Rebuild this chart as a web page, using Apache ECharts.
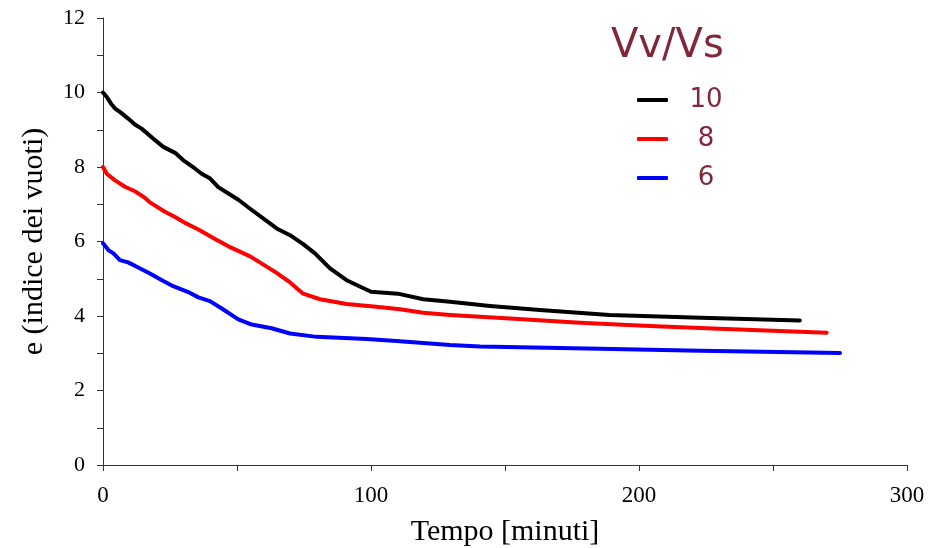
<!DOCTYPE html>
<html>
<head>
<meta charset="utf-8">
<script src="https://cdn.jsdelivr.net/npm/echarts@6/dist/echarts.min.js"></script>
<style>html,body{margin:0;padding:0;background:#fff}#c{width:940px;height:548px}</style>
</head>
<body>
<div id="c"></div>
<script>
const seriesNames = ['10', '8', '6'];
const seriesColors = ['#000000', '#ff0000', '#0000ff'];
const xTicks = [0, 100, 200, 300];
const yTicks = [0, 2, 4, 6, 8, 10, 12];

const black10 = [[0,10.0],[1.5,9.87],[3,9.7],[4.5,9.57],[6.3,9.48],[9.4,9.30],[11.9,9.14],[14.4,9.03],[18.8,8.76],[22.5,8.54],[26.9,8.38],[30,8.18],[34.3,7.96],[36.8,7.82],[40,7.69],[43,7.46],[46.8,7.29],[50.5,7.12],[54.9,6.88],[64.8,6.35],[69.8,6.17],[74.7,5.93],[79.1,5.68],[84.7,5.28],[90.9,4.96],[100,4.65],[110,4.60],[119.5,4.45],[129.5,4.38],[144.4,4.27],[163,4.16],[189,4.03],[223,3.95],[260,3.88]];
const red8 = [[0,8.0],[1.4,7.82],[4.5,7.64],[8.2,7.47],[11.9,7.35],[15.7,7.17],[17.5,7.05],[23.1,6.80],[26.9,6.66],[30.6,6.50],[35.6,6.32],[41.8,6.07],[46.8,5.87],[54.9,5.60],[64.5,5.17],[69.8,4.90],[74.7,4.60],[81,4.45],[90.9,4.32],[102,4.25],[110.8,4.18],[119.5,4.09],[129.5,4.03],[151.9,3.93],[178,3.82],[204,3.73],[230,3.66],[270,3.55]];
const blue6 = [[0,5.95],[2,5.77],[3.9,5.68],[6.3,5.50],[9.4,5.44],[12.6,5.32],[17.5,5.14],[22.5,4.94],[26.2,4.80],[32.5,4.62],[35.6,4.50],[39.9,4.40],[44.3,4.20],[50.5,3.91],[55.5,3.77],[62.9,3.67],[69.8,3.53],[79.7,3.44],[98.4,3.38],[110.8,3.32],[129.5,3.22],[140.7,3.18],[185.4,3.12],[222.8,3.07],[275,3.01]];
const allData = [black10, red8, blue6];

const serif = 'Liberation Serif, Times New Roman, serif';
const sans = 'DejaVu Sans, Verdana, sans-serif';
const legendColor = '#80283a';

const chart = echarts.init(document.getElementById('c'), null, {renderer: 'canvas'});
chart.setOption({
  animation: false,
  backgroundColor: '#ffffff',
  title: {
    text: 'Vv/Vs',
    left: 611, top: 27, padding: 0,
    textStyle: {color: legendColor, fontFamily: sans, fontSize: 40, fontWeight: 'normal'}
  },
  legend: {
    orient: 'vertical',
    left: 637, top: 85, padding: 0,
    itemWidth: 31, itemHeight: 4, itemGap: 9,
    icon: 'roundRect',
    data: seriesNames,
    formatter: function (n) { return '{a|' + n + '}'; },
    textStyle: {
      color: legendColor, fontFamily: sans, fontSize: 26, lineHeight: 30,
      rich: {a: {width: 66, align: 'center', fontSize: 26, fontFamily: sans, color: legendColor, lineHeight: 30}}
    }
  },
  grid: {left: 103, top: 18, right: 33, bottom: 83, containLabel: false, outerBoundsMode: 'none'},
  xAxis: {
    type: 'value', min: xTicks[0], max: xTicks[xTicks.length - 1], interval: 100,
    name: 'Tempo [minuti]', nameLocation: 'middle', nameGap: 52,
    nameTextStyle: {fontFamily: serif, fontSize: 30, color: '#000'},
    axisLine: {show: true, lineStyle: {color: '#333', width: 1}},
    axisTick: {show: true, length: 6, lineStyle: {color: '#333'}},
    minorTick: {show: true, splitNumber: 2, length: 6, lineStyle: {color: '#333'}},
    splitLine: {show: false},
    axisLabel: {fontFamily: serif, fontSize: 23, color: '#000', margin: 19}
  },
  yAxis: {
    type: 'value', min: yTicks[0], max: yTicks[yTicks.length - 1], interval: 2,
    name: 'e (indice dei vuoti)', nameLocation: 'middle', nameGap: 54,
    nameTextStyle: {fontFamily: serif, fontSize: 30, color: '#000'},
    axisLine: {show: true, lineStyle: {color: '#333', width: 1}},
    axisTick: {show: true, length: 6, lineStyle: {color: '#333'}},
    minorTick: {show: true, splitNumber: 2, length: 6, lineStyle: {color: '#333'}},
    splitLine: {show: false},
    axisLabel: {fontFamily: serif, fontSize: 22, color: '#000', margin: 18}
  },
  series: seriesNames.map((n, i) => ({
    name: n, type: 'line', data: allData[i],
    showSymbol: false, symbol: 'none',
    color: seriesColors[i],
    lineStyle: {color: seriesColors[i], width: 4, cap: 'round', join: 'round'},
    z: 3 - i
  }))
});
</script>
</body>
</html>
